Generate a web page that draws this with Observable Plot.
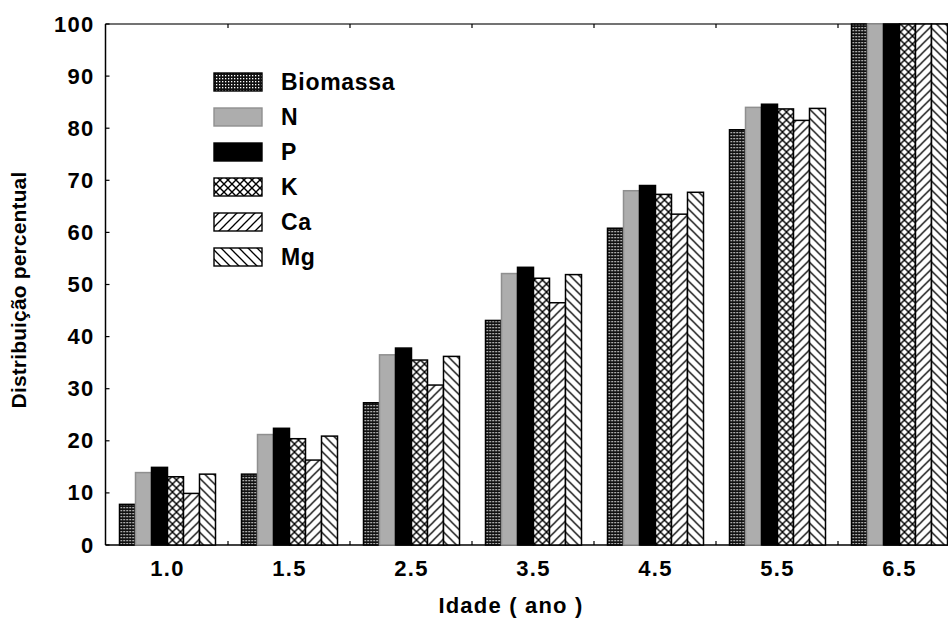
<!DOCTYPE html>
<html>
<head>
<meta charset="utf-8">
<script src="https://cdn.jsdelivr.net/npm/d3@7"></script>
<script src="https://cdn.jsdelivr.net/npm/@observablehq/plot@0.6"></script>
<style>
  html, body { margin: 0; padding: 0; background: #fff; overflow: hidden; }
  #chart svg { display: block; overflow: hidden; }
</style>
</head>
<body>
<svg width="0" height="0" style="position:absolute">
  <defs>
    <pattern id="pBio" width="3" height="3" patternUnits="userSpaceOnUse">
      <rect width="3" height="3" fill="#111"/>
      <rect width="1.3" height="1.3" fill="#ffffff"/>
    </pattern>
    <pattern id="pK" width="8" height="8" patternUnits="userSpaceOnUse">
      <rect width="8" height="8" fill="#fff"/>
      <path d="M-1,-1L9,9M9,-1L-1,9" stroke="#000" stroke-width="1.4"/>
    </pattern>
    <pattern id="pCa" width="9" height="9" patternUnits="userSpaceOnUse">
      <rect width="9" height="9" fill="#fff"/>
      <path d="M-1,10L10,-1M-3,3L3,-3M6,12L12,6" stroke="#000" stroke-width="1.3"/>
    </pattern>
    <pattern id="pMg" width="9" height="9" patternUnits="userSpaceOnUse">
      <rect width="9" height="9" fill="#fff"/>
      <path d="M-1,-1L10,10M-3,6L3,12M6,-3L12,3" stroke="#000" stroke-width="1.3"/>
    </pattern>
  </defs>
</svg>
<div id="chart"></div>
<script>
// ---- data ----
const idades = ["1.0", "1.5", "2.5", "3.5", "4.5", "5.5", "6.5"];
const series = ["Biomassa", "N", "P", "K", "Ca", "Mg"];
const biomassa = [7.8, 13.6, 27.3, 43.1, 60.8, 79.7, 100];
const nVals    = [13.9, 21.2, 36.5, 52.1, 68.0, 84.0, 100];
const pVals    = [14.9, 22.4, 37.8, 53.3, 69.0, 84.6, 100];
const kVals    = [13.1, 20.4, 35.5, 51.2, 67.3, 83.7, 100];
const caVals   = [9.9, 16.3, 30.7, 46.5, 63.5, 81.5, 100];
const mgVals   = [13.6, 20.9, 36.2, 51.9, 67.7, 83.8, 100];
const yTicks   = [0, 10, 20, 30, 40, 50, 60, 70, 80, 90, 100];
const xTitle = "Idade ( ano )";
const yTitle = "Distribuição percentual";

const valuesBySeries = [biomassa, nVals, pVals, kVals, caVals, mgVals];
const fills   = {Biomassa: "url(#pBio)", N: "#adadad", P: "#000000", K: "url(#pK)", Ca: "url(#pCa)", Mg: "url(#pMg)"};
const strokes = {Biomassa: "#000000", N: "#8f8f8f", P: "#000000", K: "#000000", Ca: "#000000", Mg: "#000000"};

const rows = [];
idades.forEach((idade, i) => series.forEach((serie, j) => rows.push({idade, serie, valor: valuesBySeries[j][i]})));

// ---- layout ----
const W = 948, H = 618, mL = 105.5, mT = 24, mB = 73;
const groupStep = 122;

const plot = Plot.plot({
  width: W, height: H,
  marginLeft: mL, marginRight: 0, marginTop: mT, marginBottom: mB,
  style: {fontFamily: "'Liberation Sans', Arial, sans-serif", fontWeight: "bold", fontSize: "22px", letterSpacing: "1.3px", overflow: "hidden", color: "#000"},
  fx: {domain: idades, range: [mL, mL + groupStep * idades.length], padding: 0, label: null, tickSize: 0, tickPadding: 15},
  x: {domain: series, paddingInner: 0, paddingOuter: 0.7, axis: null},
  y: {domain: [0, 100], ticks: yTicks, tickSize: 0, tickPadding: 12, label: null},
  color: {type: "identity"},
  marks: [
    Plot.barY(rows, {fx: "idade", x: "serie", y: "valor", fill: d => fills[d.serie], stroke: d => strokes[d.serie], strokeWidth: 1.5})
  ]
});

const svg = d3.select(plot);
const ys = plot.scale("y"), fxs = plot.scale("fx");
const y0 = ys.apply(0), y100 = ys.apply(100);
const g = svg.append("g").attr("stroke", "#000").attr("fill", "none");
// frame lines
g.append("line").attr("x1", mL).attr("x2", W).attr("y1", y100).attr("y2", y100).attr("stroke", "#444").attr("stroke-width", 1.5);
g.append("line").attr("x1", mL).attr("x2", W).attr("y1", y0).attr("y2", y0).attr("stroke-width", 1.5);
g.append("line").attr("x1", mL).attr("x2", mL).attr("y1", y100).attr("y2", y0).attr("stroke-width", 1.5);
// inward y ticks
yTicks.forEach(t => g.append("line").attr("x1", mL).attr("x2", mL + 4).attr("y1", ys.apply(t)).attr("y2", ys.apply(t)).attr("stroke-width", 1.2));
// group boundary ticks
idades.slice(1).forEach(k => {
  const x = fxs.apply(k);
  g.append("line").attr("x1", x).attr("x2", x).attr("y1", y0).attr("y2", y0 - 4).attr("stroke-width", 1.2);
  g.append("line").attr("x1", x).attr("x2", x).attr("y1", y100).attr("y2", y100 + 4).attr("stroke-width", 1.2);
});
// bars drawn over the frame lines
svg.selectAll("g[aria-label='bar']").raise();

// titles
svg.append("text").text(xTitle).attr("x", 511).attr("y", 613).attr("text-anchor", "middle")
  .attr("font-size", 22).attr("font-weight", "bold").attr("letter-spacing", "1.2px").attr("fill", "#000");
svg.append("text").text(yTitle).attr("transform", "translate(26,290) rotate(-90)").attr("text-anchor", "middle")
  .attr("font-size", 21).attr("font-weight", "bold").attr("letter-spacing", "0.15px").attr("fill", "#000");

// legend
const lg = svg.append("g");
series.forEach((s, i) => {
  const cy = 82 + 35 * i;
  lg.append("rect").attr("x", 214).attr("y", cy - 9).attr("width", 48).attr("height", 18)
    .attr("fill", fills[s]).attr("stroke", strokes[s]).attr("stroke-width", 1.4);
  lg.append("text").text(s).attr("x", 281).attr("y", cy).attr("dy", "0.36em").attr("text-anchor", "start")
    .attr("font-size", 23).attr("font-weight", "bold").attr("letter-spacing", "0.7px").attr("fill", "#000");
});

document.getElementById("chart").appendChild(plot);
</script>
</body>
</html>
